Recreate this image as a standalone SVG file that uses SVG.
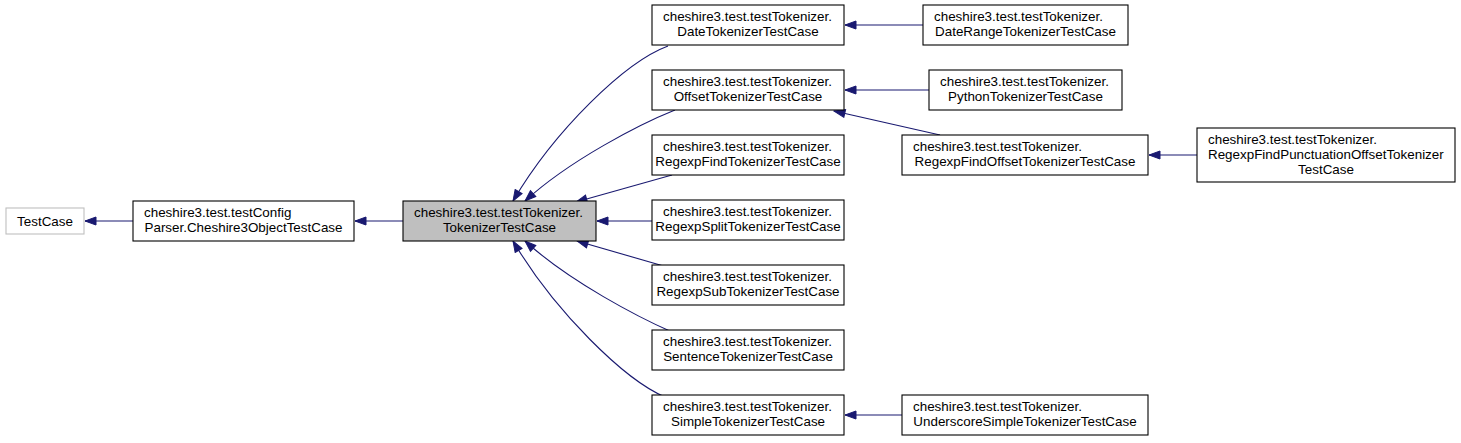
<svg xmlns="http://www.w3.org/2000/svg" width="1461" height="443" viewBox="0 0 1461 443">
<style>
  .box { fill: #ffffff; stroke: #000000; stroke-width: 1.1; }
  .gray { fill: #ffffff; stroke: #bfbfbf; stroke-width: 1.1; }
  .cur { fill: #bfbfbf; stroke: #000000; stroke-width: 1.1; }
  text { font-family: "Liberation Sans", Arial, Helvetica, sans-serif; font-size: 13.4px; fill: #000000; }
  .s { text-anchor: start; }
  .m { text-anchor: middle; }
  .edge { fill: none; stroke: #191970; stroke-width: 1.1; }
</style>
<defs>
  <marker id="ah" markerUnits="userSpaceOnUse" markerWidth="13" markerHeight="10" refX="11" refY="4" orient="auto" viewBox="-1 -1 13 10">
    <path d="M0,0 L11,4 L0,8 Z" fill="#191970" stroke="#191970" stroke-width="1"/>
  </marker>
</defs>
<rect width="1461" height="443" fill="#ffffff"/>

<g id="connectors">
  <path class="edge" marker-end="url(#ah)" d="M133,221 L85,221"/>
  <path class="edge" marker-end="url(#ah)" d="M403,221 L355,221"/>
  <path class="edge" marker-end="url(#ah)" d="M668,46 C625,62 555,130 513,201"/>
  <path class="edge" marker-end="url(#ah)" d="M675,110 C640,124 570,160 525,201"/>
  <path class="edge" marker-end="url(#ah)" d="M672,175 L576,202"/>
  <path class="edge" marker-end="url(#ah)" d="M652,221 L597,221"/>
  <path class="edge" marker-end="url(#ah)" d="M667,267 L577,241"/>
  <path class="edge" marker-end="url(#ah)" d="M672,332 C640,318 570,282 525,241"/>
  <path class="edge" marker-end="url(#ah)" d="M665,397 C625,380 555,312 513,241"/>
  <path class="edge" marker-end="url(#ah)" d="M923,25 L845,25"/>
  <path class="edge" marker-end="url(#ah)" d="M929,90 L845,90"/>
  <path class="edge" marker-end="url(#ah)" d="M940,135 L834,111"/>
  <path class="edge" marker-end="url(#ah)" d="M1197,155 L1149,155"/>
  <path class="edge" marker-end="url(#ah)" d="M902,415 L845,415"/>
</g>

<g id="TestCase">
  <rect class="gray" x="6" y="208" width="78" height="26"/>
  <text class="m" x="45" y="226">TestCase</text>
</g>
<g id="Cheshire3ObjectTestCase">
  <rect class="box" x="133" y="201" width="221" height="40"/>
  <text class="s" x="144" y="217">cheshire3.test.testConfig</text>
  <text class="m" x="243.5" y="232">Parser.Cheshire3ObjectTestCase</text>
</g>
<g id="TokenizerTestCase">
  <rect class="cur" x="403" y="201" width="193" height="40"/>
  <text class="s" x="414" y="217">cheshire3.test.testTokenizer.</text>
  <text class="m" x="499.5" y="232">TokenizerTestCase</text>
</g>
<g id="DateTokenizerTestCase">
  <rect class="box" x="652" y="5" width="192" height="40"/>
  <text class="s" x="663" y="21">cheshire3.test.testTokenizer.</text>
  <text class="m" x="748" y="36">DateTokenizerTestCase</text>
</g>
<g id="DateRangeTokenizerTestCase">
  <rect class="box" x="923" y="5" width="205" height="40"/>
  <text class="s" x="934" y="21">cheshire3.test.testTokenizer.</text>
  <text class="m" x="1025.5" y="36">DateRangeTokenizerTestCase</text>
</g>
<g id="OffsetTokenizerTestCase">
  <rect class="box" x="652" y="70" width="192" height="40"/>
  <text class="s" x="663" y="86">cheshire3.test.testTokenizer.</text>
  <text class="m" x="748" y="101">OffsetTokenizerTestCase</text>
</g>
<g id="PythonTokenizerTestCase">
  <rect class="box" x="929" y="70" width="193" height="40"/>
  <text class="s" x="940" y="86">cheshire3.test.testTokenizer.</text>
  <text class="m" x="1025.5" y="101">PythonTokenizerTestCase</text>
</g>
<g id="RegexpFindTokenizerTestCase">
  <rect class="box" x="652" y="135" width="192" height="40"/>
  <text class="s" x="663" y="151">cheshire3.test.testTokenizer.</text>
  <text class="m" x="748" y="166">RegexpFindTokenizerTestCase</text>
</g>
<g id="RegexpFindOffsetTokenizerTestCase">
  <rect class="box" x="902" y="135" width="246" height="40"/>
  <text class="s" x="913" y="151">cheshire3.test.testTokenizer.</text>
  <text class="m" x="1025" y="166">RegexpFindOffsetTokenizerTestCase</text>
</g>
<g id="RegexpFindPunctuationOffsetTokenizerTestCase">
  <rect class="box" x="1197" y="128" width="258" height="54"/>
  <text class="s" x="1208" y="144">cheshire3.test.testTokenizer.</text>
  <text class="s" x="1208" y="159">RegexpFindPunctuationOffsetTokenizer</text>
  <text class="m" x="1326" y="174">TestCase</text>
</g>
<g id="RegexpSplitTokenizerTestCase">
  <rect class="box" x="652" y="200" width="192" height="40"/>
  <text class="s" x="663" y="216">cheshire3.test.testTokenizer.</text>
  <text class="m" x="748" y="231">RegexpSplitTokenizerTestCase</text>
</g>
<g id="RegexpSubTokenizerTestCase">
  <rect class="box" x="652" y="265" width="192" height="40"/>
  <text class="s" x="663" y="281">cheshire3.test.testTokenizer.</text>
  <text class="m" x="748" y="296">RegexpSubTokenizerTestCase</text>
</g>
<g id="SentenceTokenizerTestCase">
  <rect class="box" x="652" y="330" width="192" height="40"/>
  <text class="s" x="663" y="346">cheshire3.test.testTokenizer.</text>
  <text class="m" x="748" y="361">SentenceTokenizerTestCase</text>
</g>
<g id="SimpleTokenizerTestCase">
  <rect class="box" x="652" y="395" width="192" height="40"/>
  <text class="s" x="663" y="411">cheshire3.test.testTokenizer.</text>
  <text class="m" x="748" y="426">SimpleTokenizerTestCase</text>
</g>
<g id="UnderscoreSimpleTokenizerTestCase">
  <rect class="box" x="902" y="395" width="246" height="40"/>
  <text class="s" x="913" y="411">cheshire3.test.testTokenizer.</text>
  <text class="m" x="1025" y="426">UnderscoreSimpleTokenizerTestCase</text>
</g>
</svg>
